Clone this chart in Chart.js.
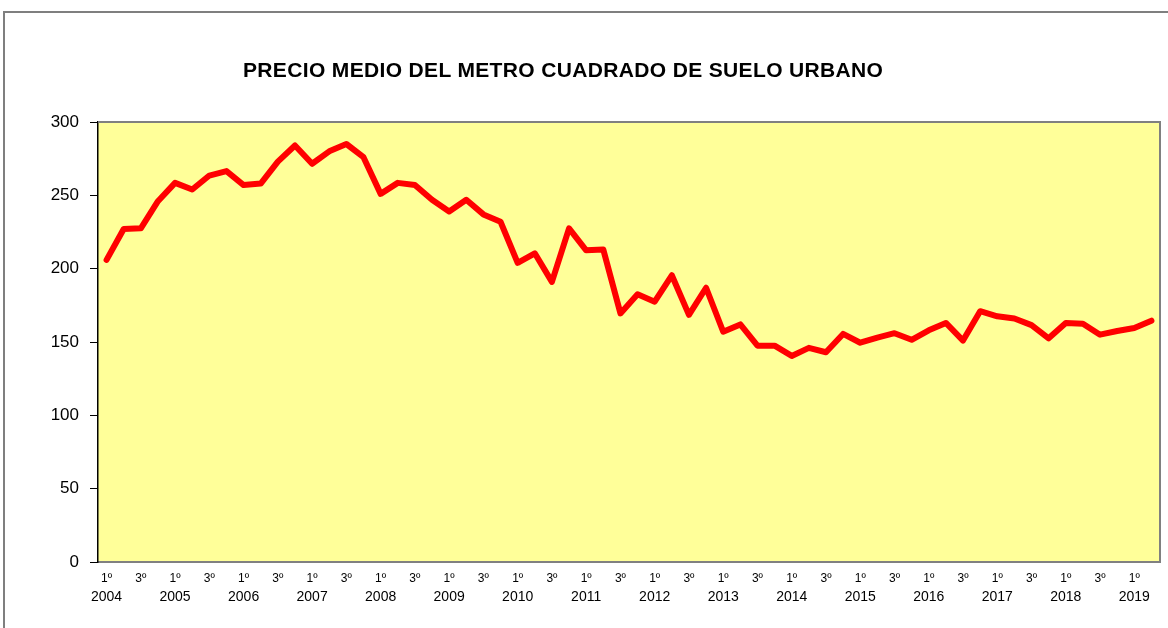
<!DOCTYPE html>
<html>
<head>
<meta charset="utf-8">
<script src="https://cdn.jsdelivr.net/npm/chart.js@4.4.1/dist/chart.umd.min.js"></script>
<style>
  html, body { margin: 0; padding: 0; background: #fff; }
  #wrap { position: relative; width: 1168px; height: 628px; overflow: hidden; }
  #frame { position: absolute; left: 3px; top: 11px; width: 1200px; height: 700px; border: 2px solid #7f7f7f; }
  #title { position: absolute; left: 243px; top: 59px; font: bold 21px "Liberation Sans", Arial, sans-serif;
           line-height: 21px; letter-spacing: 0.35px; color: #000; white-space: nowrap; }
  #chart { position: absolute; left: 0; top: 0; }
</style>
</head>
<body>
<div id="wrap">
  <div id="frame"></div>
  <canvas id="chart" width="1168" height="628"></canvas>
  <div id="title">PRECIO MEDIO DEL METRO CUADRADO DE SUELO URBANO</div>
</div>
<script>
// Data (quarterly, 1º 2004 .. 2º 2019)
const years = [2004, 2005, 2006, 2007, 2008, 2009, 2010, 2011, 2012, 2013, 2014, 2015, 2016, 2017, 2018, 2019];
const quarterMarks = ['1º', '', '3º', ''];
const precio = [
    206, 227, 227.5, 246, 258.5, 254, 263.5, 266.5,
    257, 258, 273, 284, 271.5, 280, 285, 276,
    251, 258.5, 257, 247, 239, 247, 237, 232,
    204, 210.5, 191, 227.5, 212.5, 213, 169.5, 182.5,
    177.5, 195.5, 168.5, 187, 157, 162, 147.5, 147.5,
    140.5, 146, 143, 155.5, 149.5, 153, 156, 151.5,
    158, 163, 151, 171, 167.5, 166, 161.5, 152.5,
    163, 162.5, 155, 157.5, 159.5, 164.5
];
const yTicks = [0, 50, 100, 150, 200, 250, 300];

// build the two label rows (quarter mark and year under the 1st quarter)
const quarterLabels = [];
const yearLabels = [];
for (let i = 0; i < precio.length; i++) {
    quarterLabels.push(quarterMarks[i % 4]);
    yearLabels.push(i % 4 === 0 ? String(years[Math.floor(i / 4)]) : '');
}

// yellow plot area with grey frame
const plotArea = {
    id: 'plotArea',
    beforeDraw(chart) {
        const {ctx, chartArea: a} = chart;
        ctx.save();
        ctx.fillStyle = '#FFFF99';
        ctx.fillRect(a.left, a.top, a.right - a.left, a.bottom - a.top);
        ctx.restore();
    },
    beforeDatasetsDraw(chart) {
        const {ctx, chartArea: a} = chart;
        ctx.save();
        ctx.strokeStyle = '#808080';
        ctx.lineWidth = 2;
        ctx.beginPath();
        ctx.moveTo(a.left, a.top);
        ctx.lineTo(a.right, a.top);
        ctx.lineTo(a.right, a.bottom);
        ctx.stroke();
        ctx.restore();
    }
};

const font = 'Liberation Sans, Arial, sans-serif';

new Chart(document.getElementById('chart'), {
    type: 'line',
    data: {
        labels: quarterLabels,
        datasets: [{
            data: precio,
            borderColor: '#FF0000',
            borderWidth: 6,
            borderJoinStyle: 'round',
            borderCapStyle: 'round',
            pointRadius: 0,
            tension: 0,
            fill: false
        }]
    },
    options: {
        responsive: false,
        animation: false,
        devicePixelRatio: 1,
        layout: { padding: { top: 122, right: 8, bottom: 20, left: 0 } },
        plugins: {
            legend: { display: false },
            tooltip: { enabled: false }
        },
        scales: {
            x: {
                type: 'category',
                offset: true,
                grid: { display: false, drawTicks: false },
                border: { display: true, color: '#808080', width: 2 },
                ticks: {
                    autoSkip: false, maxRotation: 0, minRotation: 0,
                    padding: 9, color: '#000',
                    font: { family: font, size: 12 }
                },
                afterFit: s => { s.height = 25; }
            },
            x2: {
                type: 'category',
                position: 'bottom',
                labels: yearLabels,
                offset: true,
                grid: { display: false, drawTicks: false },
                border: { display: false },
                ticks: {
                    autoSkip: false, maxRotation: 0, minRotation: 0,
                    padding: 2, color: '#000',
                    font: { family: font, size: 14 }
                },
                afterFit: s => { s.height = 21; }
            },
            y: {
                min: 0,
                max: 300,
                afterBuildTicks: s => { s.ticks = yTicks.map(v => ({ value: v })); },
                grid: { drawOnChartArea: false, drawTicks: true, tickLength: 8, color: '#000' },
                border: { display: true, color: '#000', width: 1.5 },
                ticks: { padding: 11, color: '#000', font: { family: font, size: 17 } },
                afterFit: s => { s.width = 98; }
            }
        }
    },
    plugins: [plotArea]
});
</script>
</body>
</html>
